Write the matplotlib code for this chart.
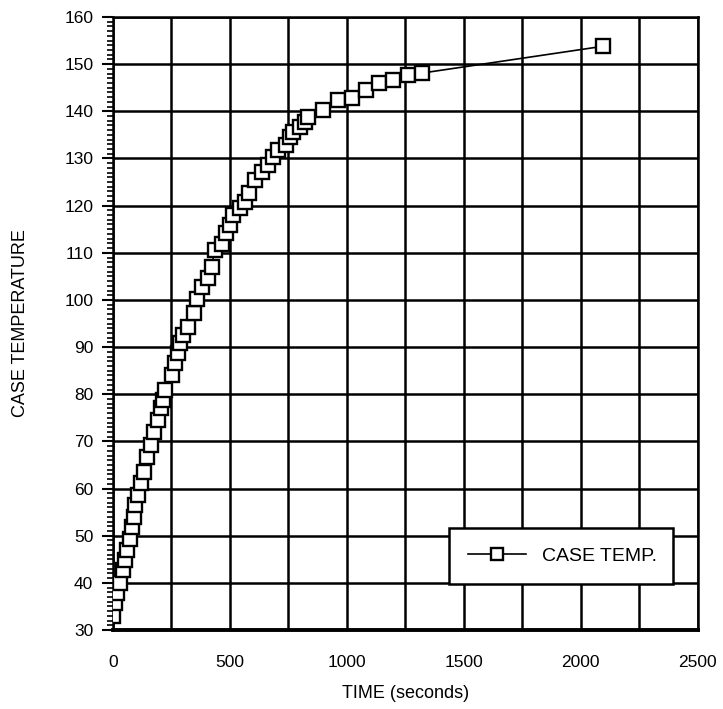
import matplotlib
matplotlib.use("Agg")
import matplotlib.pyplot as plt
from matplotlib.ticker import MultipleLocator

plt.rcParams['font.family'] = ['Liberation Sans', 'DejaVu Sans']

time_s = [0, 10, 20, 30, 45, 52, 62, 73, 82, 91, 97, 108, 122, 135, 148, 162,
          177, 194, 205, 215, 225, 251, 265, 279, 286, 300, 320, 347, 360, 382,
          405, 422, 436, 467, 486, 500, 514, 543, 564, 581, 607, 636, 664, 685,
          707, 742, 756, 771, 799, 821, 835, 899, 963, 1024, 1084, 1138, 1198,
          1260, 1320, 2096]
case_temp = [33.0, 35.7, 37.8, 39.9, 42.7, 44.8, 47.0, 49.4, 51.8, 54.0, 56.5,
             58.6, 61.1, 63.5, 66.7, 69.2, 72.0, 74.5, 77.0, 78.8, 80.9, 84.1,
             86.6, 88.7, 90.8, 92.6, 94.2, 97.2, 100.3, 102.8, 104.6, 107.0,
             110.6, 111.9, 114.1, 115.9, 118.0, 119.4, 120.8, 122.7, 125.4,
             127.2, 128.6, 130.4, 131.8, 132.9, 134.6, 135.7, 136.7, 137.8,
             138.9, 140.3, 142.4, 142.8, 144.5, 146.0, 146.6, 147.6, 148.1,
             153.8]

x_ticks = [0, 500, 1000, 1500, 2000, 2500]
y_ticks = list(range(30, 161, 10))

fig = plt.figure(figsize=(7.23, 7.09), dpi=100)
ax = fig.add_axes([0.156, 0.1114, 0.809, 0.8646])

ax.plot(time_s, case_temp, color='black', lw=1.2, marker='s', markersize=9.5,
        markerfacecolor='white', markeredgecolor='black', markeredgewidth=1.7,
        label='CASE TEMP.', zorder=3)

ax.set_xlim(0, 2500)
ax.set_ylim(30, 160)
ax.set_xticks(x_ticks)
ax.xaxis.set_minor_locator(MultipleLocator(250))
ax.set_yticks(y_ticks)
ax.yaxis.set_minor_locator(MultipleLocator(1))

ax.grid(which='major', axis='y', color='black', lw=1.8)
ax.grid(which='both', axis='x', color='black', lw=1.8)
ax.set_axisbelow(True)

ax.tick_params(axis='x', which='both', length=0, pad=18, labelsize=12.5)
ax.tick_params(axis='y', which='major', direction='out', length=8, width=1.5,
               pad=6, labelsize=12.5)
ax.tick_params(axis='y', which='minor', direction='out', length=4, width=1.2)

for s in ['left', 'right', 'top']:
    ax.spines[s].set_linewidth(1.8)
ax.spines['bottom'].set_linewidth(2.8)

ax.set_xlabel('TIME (seconds)', fontsize=13, labelpad=11)
ax.set_ylabel('CASE TEMPERATURE', fontsize=13, labelpad=25)

leg = ax.legend(loc='lower left', bbox_to_anchor=(0.574, 0.075, 0.383, 0.0865),
                mode='expand', fontsize=14, handlelength=3.0, markerscale=0.85,
                frameon=True, fancybox=False, framealpha=1, borderpad=1.0,
                borderaxespad=0, edgecolor='black')
leg.get_frame().set_linewidth(1.8)

fig.savefig('out.png', dpi=100)
